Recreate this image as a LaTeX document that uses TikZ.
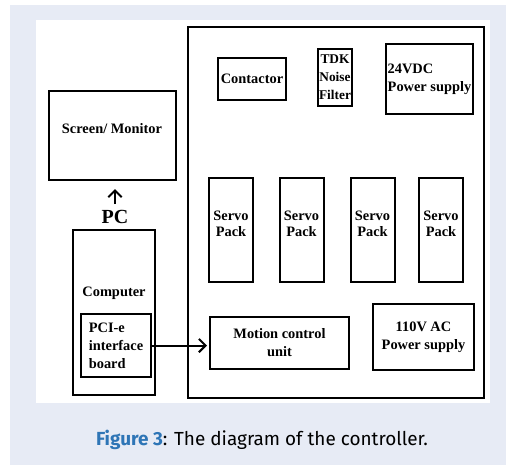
\documentclass[tikz,border=0pt]{standalone}
\usepackage{fontspec}
\setmainfont{Liberation Serif}
\newfontfamily\capfont{Fira Sans}
\usetikzlibrary{arrows.meta}

\definecolor{pagebg}{RGB}{231,235,245}
\definecolor{figblue}{RGB}{46,117,182}

\tikzset{
  box/.style={draw, line width=1.5pt, align=center, inner sep=2pt,
    font=\fontsize{10.8}{13.5}\selectfont\bfseries},
  lbl/.style={align=center, inner sep=0pt,
    font=\fontsize{10.8}{12}\selectfont\bfseries},
  link/.style={-{Straight Barb[length=5pt,width=10pt]}, line width=1.5pt},
}

\begin{document}
\begin{tikzpicture}[x=0.75pt, y=-0.75pt]
            \useasboundingbox (0,0) rectangle (506,465);
            \fill[pagebg] (10,5) rectangle (506,465);
            \fill[white] (36,20) rectangle (490,403);

            % controller cabinet
            \node[box, minimum width=222pt, minimum height=278.25pt] (ctrl) at (336,212.5) {};
            \node[box, minimum width=51pt, minimum height=31.5pt] (contactor) at (252,79) {Contactor};
            \node[box, minimum width=22.5pt, minimum height=42.75pt, inner sep=0.5pt,
              font=\fontsize{10}{13.5}\selectfont\bfseries] (tdk) at (335,77.5) {TDK\\Noise\\Filter};
            \node[box, minimum width=65.25pt, minimum height=52.5pt, align=left,
              inner xsep=1.5pt] (dcsupply) at (429.5,79) {24VDC\\Power supply};
            \foreach \x [count=\i] in {231,301.5,372.5,441} {
              \node[box, minimum width=33pt, minimum height=78pt] (servo\i) at (\x,230) {};
              \node[lbl] (servotext\i) at (\x,224) {Servo\\Pack};
            }
            \node[box, minimum width=104.25pt, minimum height=39pt] (motion) at (279.5,343) {Motion control\\unit};
            \node[box, minimum width=75.75pt, minimum height=49.5pt] (acsupply) at (423.5,337) {110V AC\\Power supply};

            % PC side
            \node[box, minimum width=95.25pt, minimum height=66.75pt] (monitor) at (112.5,135.5) {};
            \node[lbl] (monitortext) at (112,129) {Screen/ Monitor};
            \node[font=\fontsize{15}{15}\selectfont\bfseries] (pc) at (115,217) {PC};
            \node[box, minimum width=61.5pt, minimum height=123.75pt] (computer) at (114,312.5) {};
            \node[lbl] (computertext) at (114,293) {Computer};
            \node[box, minimum width=52.5pt, minimum height=47.25pt, align=left] (pci) at (116,345.5) {PCI-e\\interface\\board};

            \draw[link, shorten <=1pt, shorten >=6pt] (pc.north) -- (pc.north |- monitor.south);
            \draw[link, shorten >=1.5pt] (pci.east) -- (pci.east -| motion.west);

            \node[font=\capfont\fontsize{14.2}{16}\selectfont] (caption) at (262,440)
              {\textcolor{figblue}{\bfseries Figure 3}: The diagram of the controller.};
        \end{tikzpicture}
\end{document}
